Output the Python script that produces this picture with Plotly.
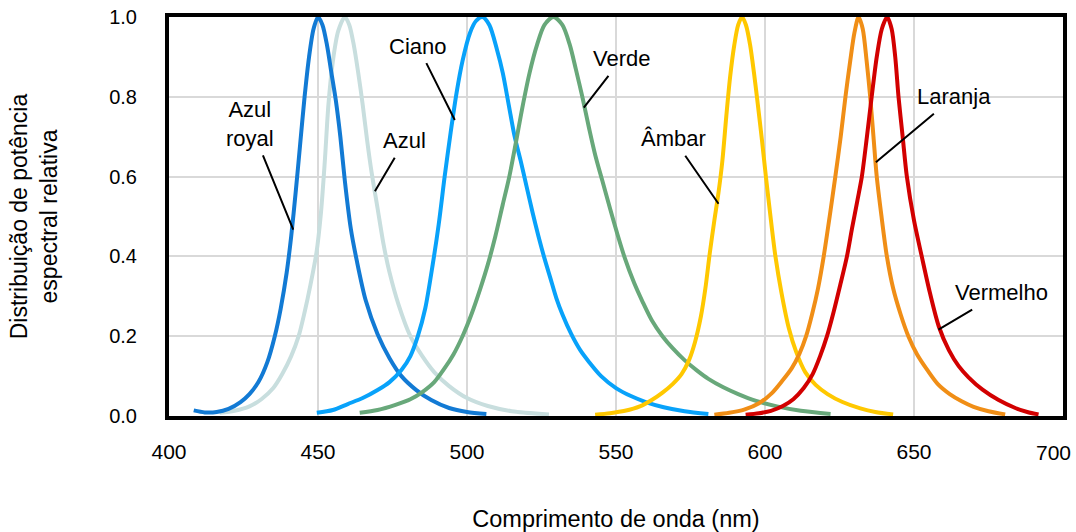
import plotly.graph_objects as go

# ---- data (wavelength nm, relative spectral power) ----
wl_azul = [417.0, 422.0, 427.0, 431.0, 435.0, 438.0, 441.0, 443.5, 445.5, 447.5, 449.5,
           451.0, 452.3, 453.5, 455.0, 456.8, 459.0, 460.5, 462.0, 463.5, 465.0, 466.5,
           468.0, 470.0, 472.0, 474.0, 477.0, 481.0, 485.0, 489.0, 494.0, 500.0, 507.0,
           515.0, 527.5]
pw_azul = [0.008, 0.013, 0.024, 0.042, 0.07, 0.105, 0.15, 0.20, 0.26, 0.33, 0.41,
           0.51, 0.64, 0.78, 0.89, 0.965, 1.0, 0.98, 0.93, 0.86, 0.78, 0.69,
           0.61, 0.52, 0.43, 0.36, 0.28, 0.20, 0.15, 0.11, 0.075, 0.045, 0.025,
           0.012, 0.004]

wl_royal = [408.3, 412.0, 416.0, 420.0, 424.0, 427.0, 430.0, 433.0, 435.5, 437.5, 439.5,
            441.0, 442.5, 444.0, 445.5, 447.0, 448.5, 450.0, 451.5, 453.0, 454.5, 456.0,
            457.5, 459.0, 461.0, 463.0, 466.0, 470.0, 474.0, 478.0, 483.0, 488.0, 494.0,
            500.0, 506.5]
pw_royal = [0.014, 0.009, 0.01, 0.018, 0.035, 0.055, 0.085, 0.135, 0.20, 0.27, 0.36,
            0.45, 0.56, 0.68, 0.80, 0.90, 0.97, 1.0, 0.98, 0.93, 0.86, 0.79,
            0.70, 0.59, 0.47, 0.39, 0.29, 0.205, 0.145, 0.10, 0.065, 0.04, 0.02,
            0.01, 0.005]

wl_ciano = [449.6, 455.0, 460.0, 465.0, 470.0, 474.0, 478.0, 481.0, 483.5, 486.0, 488.5,
            490.5, 492.5, 494.5, 496.5, 498.5, 501.0, 503.0, 505.2, 507.5, 510.0, 512.0,
            514.0, 516.0, 518.0, 520.0, 522.0, 524.0, 526.0, 528.0, 530.0, 532.0, 535.0,
            538.0, 541.0, 545.0, 550.0, 555.0, 560.0, 566.0, 573.0, 581.0]
pw_ciano = [0.008, 0.015, 0.03, 0.045, 0.065, 0.085, 0.115, 0.15, 0.20, 0.27, 0.38,
            0.48, 0.60, 0.71, 0.81, 0.89, 0.96, 0.99, 1.0, 0.98, 0.92, 0.86,
            0.78, 0.70, 0.64, 0.575, 0.51, 0.45, 0.395, 0.345, 0.295, 0.255, 0.205,
            0.165, 0.135, 0.10, 0.07, 0.05, 0.035, 0.022, 0.012, 0.005]

wl_verde = [464.0, 470.0, 476.0, 481.0, 485.0, 489.0, 492.5, 495.5, 498.5, 501.5, 504.5,
            507.0, 509.5, 512.0, 514.2, 516.4, 518.5, 521.0, 523.5, 526.0, 529.0, 532.0,
            534.5, 536.5, 538.7, 541.0, 543.0, 545.4, 548.0, 550.5, 553.0, 556.0, 559.0,
            562.0, 565.6, 569.0, 573.0, 577.0, 581.0, 586.0, 591.0, 597.0, 604.0, 612.0,
            622.0]
pw_verde = [0.008, 0.015, 0.028, 0.042, 0.06, 0.085, 0.12, 0.155, 0.20, 0.255, 0.32,
            0.38, 0.45, 0.53, 0.60, 0.685, 0.77, 0.86, 0.93, 0.98, 1.0, 0.98,
            0.93, 0.87, 0.80, 0.72, 0.655, 0.59, 0.52, 0.455, 0.395, 0.335, 0.285,
            0.24, 0.20, 0.17, 0.14, 0.115, 0.093, 0.072, 0.055, 0.038, 0.024, 0.013,
            0.005]

wl_ambar = [543.0, 548.0, 553.0, 558.0, 562.0, 565.5, 569.0, 572.0, 574.5, 576.5, 578.5,
            580.0, 581.5, 583.0, 584.4, 585.7, 587.0, 588.3, 589.7, 591.0, 592.3, 593.6,
            595.0, 596.3, 597.6, 599.0, 600.3, 602.0, 603.5, 605.5, 608.0, 610.5, 613.5,
            617.0, 621.0, 626.0, 632.0, 637.0, 643.0]
pw_ambar = [0.003, 0.007, 0.013, 0.024, 0.04, 0.058, 0.08, 0.105, 0.14, 0.185, 0.25,
            0.32, 0.41, 0.49, 0.56, 0.64, 0.75, 0.85, 0.93, 0.98, 1.0, 0.98,
            0.93, 0.86, 0.78, 0.69, 0.60, 0.49, 0.40, 0.31, 0.22, 0.16, 0.11,
            0.078, 0.055, 0.035, 0.019, 0.01, 0.004]

wl_laranja = [583.0, 588.0, 593.0, 598.0, 602.4, 606.0, 609.0, 611.5, 613.8, 615.8, 617.8,
              619.7, 621.7, 623.6, 625.4, 627.0, 628.6, 630.0, 631.4, 632.8, 634.1, 635.3,
              636.4, 637.5, 639.1, 640.9, 643.0, 645.5, 648.1, 651.0, 654.5, 658.0, 662.0,
              666.0, 670.0, 675.0, 680.6]
pw_laranja = [0.003, 0.008, 0.016, 0.032, 0.058, 0.09, 0.12, 0.155, 0.20, 0.255, 0.32,
              0.40, 0.50, 0.60, 0.70, 0.80, 0.89, 0.96, 1.0, 0.97, 0.89, 0.80,
              0.70, 0.60, 0.50, 0.40, 0.32, 0.255, 0.20, 0.155, 0.115, 0.08, 0.055,
              0.037, 0.023, 0.012, 0.004]

wl_vermelho = [593.5, 598.0, 602.0, 606.0, 609.5, 613.0, 616.0, 618.5, 620.8, 623.0, 625.3,
               627.5, 629.2, 631.0, 632.5, 634.2, 635.8, 637.5, 639.2, 641.0, 642.5, 643.7,
               644.8, 646.2, 647.6, 650.0, 652.6, 655.3, 658.3, 661.7, 665.0, 668.3, 673.0,
               678.4, 684.0, 688.0, 691.8]
pw_vermelho = [0.003, 0.007, 0.013, 0.025, 0.042, 0.07, 0.105, 0.15, 0.20, 0.26, 0.33,
               0.40, 0.47, 0.54, 0.60, 0.70, 0.80, 0.90, 0.97, 1.0, 0.97, 0.90,
               0.80, 0.70, 0.60, 0.49, 0.40, 0.31, 0.225, 0.165, 0.125, 0.097, 0.066,
               0.04, 0.02, 0.01, 0.004]

x_ticks = [400, 450, 500, 550, 600, 650, 700]
y_ticks = [0.0, 0.2, 0.4, 0.6, 0.8, 1.0]

series = [
    ("Azul", wl_azul, pw_azul, "rgb(200,222,222)"),
    ("Azul royal", wl_royal, pw_royal, "rgb(18,122,212)"),
    ("Ciano", wl_ciano, pw_ciano, "rgb(8,162,250)"),
    ("Verde", wl_verde, pw_verde, "rgb(104,168,122)"),
    ("Âmbar", wl_ambar, pw_ambar, "rgb(255,200,0)"),
    ("Laranja", wl_laranja, pw_laranja, "rgb(240,142,22)"),
    ("Vermelho", wl_vermelho, pw_vermelho, "rgb(210,0,0)"),
]

FONT = "Liberation Sans, Arial, sans-serif"

fig = go.Figure()
for name, xs, ys, col in series:
    fig.add_trace(go.Scatter(
        x=xs, y=ys, mode="lines", name=name,
        line=dict(color=col, width=4, shape="spline", smoothing=0.8),
        showlegend=False, hoverinfo="skip",
    ))

# labels with leader lines: (text, label position, point on curve)
labels = [
    ("Azul<br>royal", 427.2, 0.732, 441.7, 0.467),
    ("Azul", 479.1, 0.690, 469.1, 0.563),
    ("Ciano", 483.5, 0.927, 495.9, 0.742),
    ("Verde", 551.9, 0.895, 539.2, 0.773),
    ("Âmbar", 569.3, 0.695, 584.4, 0.532),
    ("Laranja", 663.5, 0.800, 637.2, 0.636),
    ("Vermelho", 679.2, 0.309, 658.2, 0.2165),
]
annotations = []
for txt, tx, ty, px, py in labels:
    annotations.append(dict(
        text=txt, x=px, y=py, xref="x", yref="y",
        ax=tx, ay=ty, axref="x", ayref="y",
        showarrow=True, arrowhead=0, arrowwidth=2, arrowcolor="black",
        borderpad=4, align="center",
        font=dict(family=FONT, size=22, color="black"),
    ))
# last x tick label, drawn inside the page edge as in the reference
annotations.append(dict(
    text="700", x=700, y=0, xref="x", yref="paper", showarrow=False,
    xanchor="center", yanchor="top", xshift=-10, yshift=-23,
    font=dict(family=FONT, size=21, color="black"),
))

fig.update_layout(
    width=1076, height=532,
    margin=dict(l=169, r=13, t=17, b=116, autoexpand=False),
    paper_bgcolor="white", plot_bgcolor="white",
    font=dict(family=FONT, color="black"),
    annotations=annotations,
    xaxis=dict(
        range=[400, 700], tickvals=x_ticks[:-1],
        ticktext=[str(v) for v in x_ticks[:-1]],
        showgrid=True, gridcolor="#d9d9d9", gridwidth=1.5,
        showline=True, linecolor="black", linewidth=4, mirror=True,
        ticks="", ticklabelstandoff=14, automargin=False,
        tickfont=dict(family=FONT, size=21, color="black"),
        zeroline=False,
        title=dict(text="Comprimento de onda (nm)", standoff=57,
                   font=dict(family=FONT, size=23.5, color="black")),
    ),
    yaxis=dict(
        range=[0, 1.0], tickvals=y_ticks,
        ticktext=[f"{v:.1f}" for v in y_ticks],
        showgrid=True, gridcolor="#d9d9d9", gridwidth=1.5,
        showline=True, linecolor="black", linewidth=4, mirror=True,
        ticks="", ticklabelstandoff=24, automargin=False,
        tickfont=dict(family=FONT, size=20, color="black"),
        zeroline=False,
        title=dict(text="Distribuição de potência<br>espectral relativa", standoff=46,
                   font=dict(family=FONT, size=23, color="black")),
    ),
)

fig.write_html("out.html")
